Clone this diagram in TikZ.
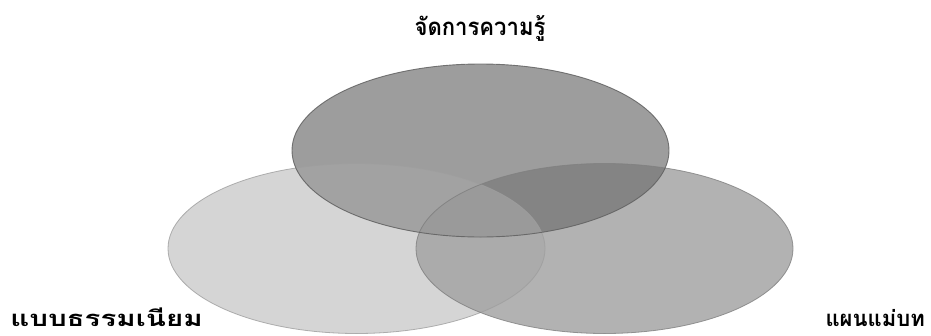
\documentclass[tikz,border=0pt]{standalone}
\usepackage{fontspec}
\newfontfamily\thaifont[Script=Thai]{Loma}
\definecolor{cTop}{HTML}{9D9D9D}
\definecolor{cLeft}{HTML}{D5D5D5}
\definecolor{cRight}{HTML}{B2B2B2}
\definecolor{cTL}{HTML}{A2A2A2}
\definecolor{cTR}{HTML}{848484}
\definecolor{cLR}{HTML}{ABABAB}
\definecolor{cTLR}{HTML}{9A9A9A}
\tikzset{
  lbl/.style={font=\thaifont\bfseries\fontsize{22}{26}\selectfont, inner sep=0pt, anchor=base},
}
\begin{document}
\begin{tikzpicture}[x=1pt,y=-1pt]
\useasboundingbox (0,0) rectangle (931,335);
\def\topE{(480.5,150.5) ellipse [x radius=188.5, y radius=86.5]}
\def\leftE{(356.5,248.5) ellipse [x radius=188.5, y radius=85]}
\def\rightE{(604.5,248.5) ellipse [x radius=188.5, y radius=85]}
% plain fills
\fill[cLeft] \leftE;
\fill[cRight] \rightE;
\fill[cTop] \topE;
% pairwise overlaps
\begin{scope}\clip \leftE; \fill[cLR] \rightE; \end{scope}
\begin{scope}\clip \topE; \fill[cTL] \leftE; \end{scope}
\begin{scope}\clip \topE; \fill[cTR] \rightE; \end{scope}
\begin{scope}\clip \topE; \clip \leftE; \fill[cTLR] \rightE; \end{scope}
% outlines
\draw[line width=0.8pt, draw=black!38, opacity=0.8] \leftE;
\draw[line width=0.8pt, draw=black!50, opacity=0.8] \rightE;
\draw[line width=0.9pt, draw=black!62, opacity=0.85] \topE;
% labels
\node[lbl, font=\thaifont\bfseries\fontsize{24}{28}\selectfont, xscale=0.92] (km) at (480,35) {จัดการความรู้};
\node[lbl, anchor=base west, xscale=1.34] (trad) at (10,326) {แบบธรรมเนียม};
\node[lbl, anchor=base east] (plan) at (925,326) {แผนแม่บท};
\end{tikzpicture}
\end{document}
